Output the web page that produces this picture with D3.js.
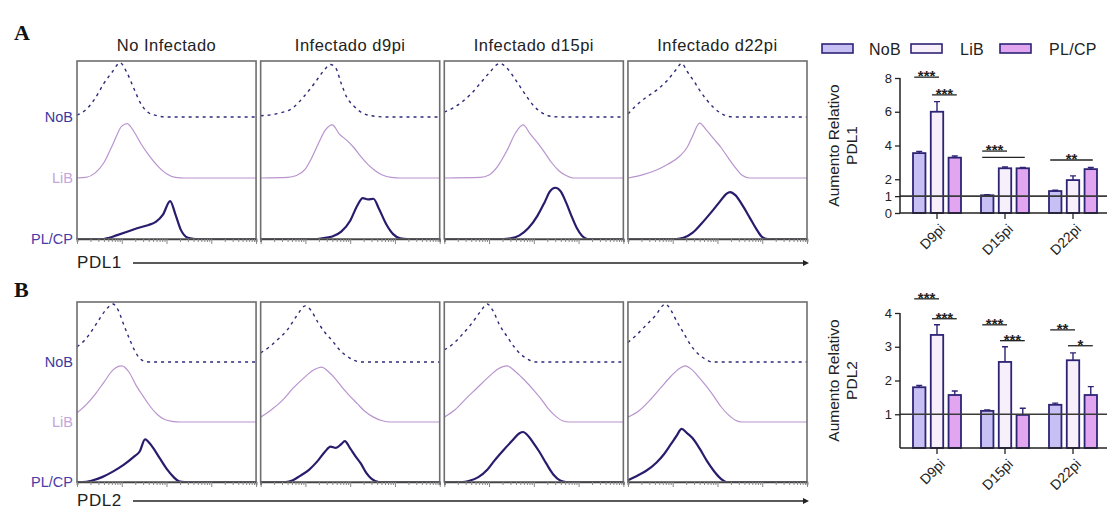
<!DOCTYPE html>
<html>
<head>
<meta charset="utf-8">
<script src="https://cdn.jsdelivr.net/npm/d3@7"></script>
<style>
body { margin: 0; background: #fff; }
svg { display: block; }
text { font-family: "Liberation Sans", Arial, sans-serif; }
</style>
</head>
<body>
<svg id="fig" width="1112" height="509"></svg>
<script>
// ---- data ----
const panelTitles = ["No Infectado", "Infectado d9pi", "Infectado d15pi", "Infectado d22pi"];
const populations = ["NoB", "LiB", "PL/CP"];

// histogram curves, [channel (% of axis), relative height], one per panel
const histPDL1NoB = [
  [[0,0.03],[5,0.12],[10,0.3],[15,0.55],[20,0.75],[24,0.89],[28,0.72],[32,0.45],[36,0.2],[40,0.07],[45,0.02],[50,0]],
  [[0,0.02],[10,0.06],[18,0.15],[24,0.33],[30,0.55],[35,0.75],[39,0.86],[42,0.8],[45,0.55],[48,0.33],[52,0.18],[56,0.08],[62,0.02],[70,0]],
  [[0,0.08],[5,0.15],[10,0.25],[15,0.38],[20,0.55],[25,0.72],[31,0.88],[35,0.8],[40,0.6],[45,0.38],[50,0.18],[55,0.06],[60,0.01],[65,0]],
  [[0,0.05],[5,0.2],[10,0.32],[16,0.44],[22,0.6],[27,0.78],[30,0.88],[33,0.75],[37,0.58],[40,0.44],[44,0.28],[48,0.15],[52,0.06],[56,0.01],[60,0]]
];
const histPDL1LiB = [
  [[0,0],[5,0.01],[10,0.08],[15,0.25],[20,0.55],[25,0.85],[28,0.89],[32,0.75],[36,0.55],[40,0.38],[45,0.2],[50,0.07],[55,0.01],[60,0]],
  [[0,0],[15,0.01],[20,0.04],[25,0.15],[28,0.3],[32,0.55],[36,0.78],[40,0.87],[44,0.72],[48,0.62],[52,0.5],[56,0.35],[60,0.22],[64,0.12],[68,0.05],[73,0.01],[78,0]],
  [[0,0],[20,0.01],[25,0.05],[30,0.2],[35,0.45],[40,0.75],[44,0.87],[48,0.72],[52,0.58],[56,0.42],[60,0.25],[64,0.12],[68,0.04],[72,0]],
  [[0,0],[8,0.05],[16,0.13],[22,0.22],[29,0.36],[33,0.5],[36,0.68],[40,0.9],[44,0.78],[48,0.64],[52,0.5],[56,0.33],[60,0.17],[64,0.04],[68,0]]
];
const histPDL1PLCP = [
  [[0,0],[15,0],[18,0.02],[22,0.06],[28,0.12],[34,0.18],[40,0.23],[44,0.28],[48,0.4],[52,0.62],[55,0.4],[58,0.15],[62,0.02],[66,0]],
  [[0,0],[30,0],[34,0.01],[40,0.04],[45,0.12],[50,0.3],[54,0.55],[57,0.67],[60,0.65],[63,0.66],[66,0.5],[70,0.25],[74,0.08],[78,0.01],[82,0]],
  [[0,0],[33,0],[37,0.01],[42,0.06],[47,0.18],[52,0.38],[56,0.6],[59,0.78],[62,0.84],[65,0.78],[68,0.6],[71,0.38],[74,0.18],[77,0.05],[80,0]],
  [[0,0],[27,0],[31,0.02],[36,0.1],[41,0.25],[46,0.42],[51,0.6],[55,0.74],[57,0.77],[60,0.72],[64,0.55],[68,0.35],[72,0.15],[75,0.03],[78,0]]
];
const histPDL2NoB = [
  [[0,0.25],[4,0.35],[8,0.5],[12,0.68],[16,0.85],[20,0.95],[23,0.85],[26,0.62],[29,0.4],[32,0.2],[35,0.06],[38,0.01],[42,0]],
  [[0,0.15],[5,0.25],[10,0.38],[15,0.53],[20,0.75],[25,0.92],[28,0.85],[32,0.65],[36,0.48],[40,0.35],[44,0.2],[48,0.1],[52,0.03],[56,0]],
  [[0,0.2],[5,0.3],[10,0.45],[15,0.62],[20,0.82],[24,0.95],[27,0.85],[31,0.6],[35,0.42],[39,0.25],[43,0.12],[47,0.04],[51,0]],
  [[0,0.32],[5,0.45],[10,0.6],[15,0.75],[21,0.95],[24,0.85],[27,0.68],[31,0.48],[35,0.28],[39,0.14],[43,0.05],[47,0]]
];
const histPDL2LiB = [
  [[0,0.15],[5,0.28],[10,0.45],[15,0.65],[20,0.85],[25,0.92],[29,0.82],[33,0.6],[37,0.42],[41,0.25],[45,0.12],[49,0.04],[53,0.01],[58,0]],
  [[0,0.08],[6,0.2],[12,0.35],[18,0.55],[24,0.72],[30,0.86],[34,0.9],[38,0.82],[42,0.7],[46,0.55],[50,0.42],[54,0.3],[58,0.18],[63,0.08],[68,0.02],[73,0]],
  [[0,0.08],[6,0.2],[12,0.38],[18,0.55],[24,0.72],[30,0.87],[35,0.92],[40,0.82],[45,0.68],[50,0.52],[54,0.38],[58,0.22],[62,0.1],[66,0.02],[70,0]],
  [[0,0.08],[6,0.18],[12,0.35],[18,0.55],[24,0.75],[29,0.88],[32,0.92],[36,0.85],[40,0.72],[44,0.58],[48,0.42],[52,0.25],[56,0.12],[60,0.03],[64,0]]
];
const histPDL2PLCP = [
  [[0,0],[3,0],[8,0.02],[14,0.08],[20,0.17],[26,0.28],[32,0.42],[35,0.5],[38,0.7],[42,0.58],[46,0.4],[50,0.22],[54,0.08],[57,0.01],[60,0]],
  [[0,0],[14,0],[18,0.03],[22,0.1],[27,0.2],[32,0.35],[36,0.5],[39,0.58],[42,0.56],[45,0.62],[47,0.67],[50,0.55],[53,0.42],[56,0.3],[59,0.15],[62,0.05],[66,0]],
  [[0,0],[10,0],[14,0.02],[19,0.08],[24,0.2],[28,0.35],[33,0.52],[38,0.68],[42,0.8],[44,0.82],[47,0.75],[50,0.63],[53,0.5],[57,0.3],[61,0.12],[65,0.02],[68,0]],
  [[0,0.03],[5,0.1],[10,0.18],[16,0.32],[20,0.45],[24,0.62],[27,0.75],[30,0.87],[33,0.8],[36,0.72],[40,0.55],[44,0.35],[48,0.18],[52,0.05],[55,0]]
];

// bar charts (relative increase)
const days = ["D9pi", "D15pi", "D22pi"];
const pdl1NoB = [3.55, 1.05, 1.3];
const pdl1LiB = [6.0, 2.65, 1.95];
const pdl1PLCP = [3.28, 2.65, 2.6];
const pdl1NoBErr = [0.1, 0.03, 0.05];
const pdl1LiBErr = [0.6, 0.08, 0.25];
const pdl1PLCPErr = [0.1, 0.05, 0.1];
const pdl1Ticks = [0, 1, 2, 4, 6, 8];

const pdl2NoB = [1.8, 1.1, 1.28];
const pdl2LiB = [3.35, 2.55, 2.6];
const pdl2PLCP = [1.57, 0.98, 1.57];
const pdl2NoBErr = [0.05, 0.03, 0.05];
const pdl2LiBErr = [0.3, 0.45, 0.22];
const pdl2PLCPErr = [0.12, 0.2, 0.25];
const pdl2Ticks = [1, 2, 3, 4];

const pdl1Sig = [
  { day: "D9pi", from: "NoB", to: "LiB", y: 8.05, label: "***" },
  { day: "D9pi", from: "LiB", to: "PL/CP", y: 7.0, label: "***" },
  { day: "D15pi", from: "NoB", to: "LiB", y: 3.67, label: "***" },
  { day: "D15pi", from: "NoB", to: "PL/CP", y: 3.3, label: "" },
  { day: "D22pi", from: "NoB", to: "PL/CP", y: 3.14, label: "**" }
];
const pdl2Sig = [
  { day: "D9pi", from: "NoB", to: "LiB", y: 4.42, label: "***" },
  { day: "D9pi", from: "LiB", to: "PL/CP", y: 3.83, label: "***" },
  { day: "D15pi", from: "NoB", to: "LiB", y: 3.65, label: "***" },
  { day: "D15pi", from: "LiB", to: "PL/CP", y: 3.18, label: "***" },
  { day: "D22pi", from: "NoB", to: "LiB", y: 3.5, label: "**" },
  { day: "D22pi", from: "LiB", to: "PL/CP", y: 3.03, label: "*" }
];

// ---- styles ----
const lineStyle = {
  "NoB":   { stroke: "#2e2b78", width: 1.4, dash: "3,4" },
  "LiB":   { stroke: "#b994cf", width: 1.2, dash: null },
  "PL/CP": { stroke: "#281d6c", width: 2.2, dash: null }
};
const labelColor = { "NoB": "#3b3aa0", "LiB": "#c6a4dc", "PL/CP": "#4b3ba6" };
const barFill = { "NoB": "#c6c0f4", "LiB": "#f7f0fb", "PL/CP": "#e2a6f0" };
const barStroke = "#2d2475";

const svg = d3.select("#fig");

// ---- histogram panels ----
const xPanel = d3.scaleBand().domain(panelTitles).range([77, 807]).paddingInner(0.025);
const xHist = d3.scaleLinear().domain([0, 100]).range([0, xPanel.bandwidth()]);
const xLog = d3.scaleLog().domain([10, 1e5]).range([0, xPanel.bandwidth()]);
const amp = d3.scaleLinear().domain([0, 1]).range([0, 61]);

function drawHistRow(cfg) {
  const yBase = d3.scalePoint().domain(populations).range([cfg.firstBase, cfg.bottom]);
  const curves = { "NoB": cfg.noB, "LiB": cfg.liB, "PL/CP": cfg.plcp };

  panelTitles.forEach((title, i) => {
    const g = svg.append("g").attr("transform", `translate(${xPanel(title)},0)`);
    if (cfg.titles) {
      g.append("text").attr("x", xPanel.bandwidth() / 2).attr("y", cfg.top - 10)
        .attr("text-anchor", "middle").attr("font-size", 16.5).attr("letter-spacing", 0.5)
        .attr("fill", "#222").text(title);
    }
    populations.forEach(p => {
      const base = yBase(p);
      const pts = curves[p][i].slice();
      if (pts[pts.length - 1][0] < 100) pts.push([100, 0]);
      const line = d3.line()
        .x(d => xHist(d[0]))
        .y(d => base - amp(d[1]))
        .curve(d3.curveMonotoneX);
      const st = lineStyle[p];
      g.append("path").attr("d", line(pts)).attr("fill", "none")
        .attr("stroke", st.stroke).attr("stroke-width", st.width)
        .attr("stroke-dasharray", st.dash).attr("stroke-linejoin", "round");
    });
    g.append("rect").attr("x", 0).attr("y", cfg.top)
      .attr("width", xPanel.bandwidth()).attr("height", cfg.bottom - cfg.top)
      .attr("fill", "none").attr("stroke", "#6e6e6e").attr("stroke-width", 1.6);
    // log ticks below the panel
    const ax = g.append("g").attr("transform", `translate(0,${cfg.bottom})`)
      .call(d3.axisBottom(xLog).tickSize(3).tickFormat(""));
    ax.select(".domain").attr("stroke", "#444").attr("stroke-width", 1.6);
    ax.selectAll(".tick line").attr("stroke", "#888")
      .attr("y2", d => Math.abs(Math.log10(d) - Math.round(Math.log10(d))) < 1e-6 ? 5 : 3);
  });

  populations.forEach(p => {
    svg.append("text").attr("x", 73).attr("y", yBase(p) + 5)
      .attr("text-anchor", "end").attr("font-size", 14.5)
      .attr("fill", labelColor[p]).text(p);
  });

  svg.append("text").attr("x", 14).attr("y", cfg.letterY)
    .style("font-family", "'Liberation Serif', 'DejaVu Serif', serif").attr("font-weight", "bold")
    .attr("font-size", 22).attr("fill", "#111").text(cfg.letter);

  svg.append("text").attr("x", 77).attr("y", cfg.markerY + 5)
    .attr("font-size", 17).attr("letter-spacing", 0.6).attr("fill", "#222").text(cfg.marker);
  svg.append("line").attr("x1", 133).attr("x2", 803)
    .attr("y1", cfg.markerY).attr("y2", cfg.markerY)
    .attr("stroke", "#222").attr("stroke-width", 1.4);
  svg.append("path")
    .attr("d", `M803,${cfg.markerY - 3}L809,${cfg.markerY}L803,${cfg.markerY + 3}Z`)
    .attr("fill", "#222");
}

drawHistRow({ top: 61, firstBase: 117, bottom: 239, titles: true, letter: "A", letterY: 40,
  marker: "PDL1", markerY: 263, noB: histPDL1NoB, liB: histPDL1LiB, plcp: histPDL1PLCP });
drawHistRow({ top: 302, firstBase: 362, bottom: 482, titles: false, letter: "B", letterY: 297,
  marker: "PDL2", markerY: 501, noB: histPDL2NoB, liB: histPDL2LiB, plcp: histPDL2PLCP });

// ---- bar charts ----
const xDay = d3.scaleBand().domain(days).range([903, 1107]);
const xPop = d3.scaleBand().domain(populations).range([10, 58]).paddingInner(0.3);

function drawBars(cfg) {
  const y = d3.scaleLinear().domain(cfg.domain).range(cfg.range);
  const vals = { "NoB": cfg.noB, "LiB": cfg.liB, "PL/CP": cfg.plcp };
  const errs = { "NoB": cfg.noBErr, "LiB": cfg.liBErr, "PL/CP": cfg.plcpErr };
  const rows = [];
  days.forEach((d, i) => populations.forEach(p => rows.push({ day: d, pop: p, v: vals[p][i], e: errs[p][i] })));
  const cx = r => xDay(r.day) + xPop(r.pop) + xPop.bandwidth() / 2;

  // error bars
  svg.append("g").selectAll("path").data(rows).join("path")
    .attr("d", r => `M${cx(r)},${y(r.v)}V${y(r.v + r.e)}M${cx(r) - 3},${y(r.v + r.e)}H${cx(r) + 3}`)
    .attr("stroke", barStroke).attr("stroke-width", 1.4).attr("fill", "none");

  svg.append("g").selectAll("rect").data(rows).join("rect")
    .attr("x", r => xDay(r.day) + xPop(r.pop))
    .attr("y", r => y(r.v))
    .attr("width", xPop.bandwidth())
    .attr("height", r => y(0) - y(r.v))
    .attr("fill", r => barFill[r.pop])
    .attr("stroke", barStroke).attr("stroke-width", 1.8);

  // reference line at 1
  svg.append("line").attr("x1", 900).attr("x2", 1107)
    .attr("y1", y(1)).attr("y2", y(1))
    .attr("stroke", "#3a3a3a").attr("stroke-width", 1.6);

  // axes
  const ya = svg.append("g").attr("transform", "translate(900,0)")
    .call(d3.axisLeft(y).tickValues(cfg.ticks).tickSize(5).tickFormat(d3.format("d")));
  ya.select(".domain").attr("d", `M0,${y(0)}V${y(cfg.domain[1])}`).attr("stroke", "#222").attr("stroke-width", 1.5);
  ya.selectAll(".tick line").attr("stroke", "#222").attr("stroke-width", 1.3);
  ya.selectAll(".tick text").attr("font-size", 13).attr("fill", "#222");

  const xa = svg.append("g").attr("transform", `translate(0,${y(0)})`)
    .call(d3.axisBottom(xDay).tickSize(6).tickSizeOuter(0));
  xa.select(".domain").attr("d", "M900,0H1107").attr("stroke", "#222").attr("stroke-width", 1.5);
  xa.selectAll(".tick line").attr("stroke", "#222").attr("stroke-width", 1.3);
  xa.selectAll(".tick text").attr("font-size", 14).attr("fill", "#222")
    .attr("text-anchor", "end").attr("dy", null).attr("y", 0)
    .attr("transform", "translate(9,17) rotate(-45)");

  // y label
  const ly = (cfg.range[0] + cfg.range[1]) / 2;
  const lab = svg.append("text").attr("transform", `translate(839,${ly}) rotate(-90)`)
    .attr("text-anchor", "middle").attr("font-size", 15.5).attr("fill", "#222");
  lab.append("tspan").attr("x", 0).attr("dy", 0).text("Aumento Relativo");
  lab.append("tspan").attr("x", 0).attr("dy", 18).text(cfg.marker);

  // significance
  const sig = svg.append("g");
  cfg.sig.forEach(s => {
    const x1 = xDay(s.day) + xPop(s.from) + xPop.bandwidth() / 2 - 5;
    const x2 = xDay(s.day) + xPop(s.to) + xPop.bandwidth() / 2 + 2;
    sig.append("line").attr("x1", x1).attr("x2", x2).attr("y1", y(s.y)).attr("y2", y(s.y))
      .attr("stroke", "#222").attr("stroke-width", 1.3);
    if (s.label) sig.append("text").attr("x", (x1 + x2) / 2).attr("y", y(s.y) + 4)
      .attr("text-anchor", "middle").attr("font-size", 15).attr("font-weight", "bold")
      .attr("fill", "#222").text(s.label);
  });
}

drawBars({ domain: [0, 8], range: [213, 78], ticks: pdl1Ticks, marker: "PDL1",
  noB: pdl1NoB, liB: pdl1LiB, plcp: pdl1PLCP,
  noBErr: pdl1NoBErr, liBErr: pdl1LiBErr, plcpErr: pdl1PLCPErr, sig: pdl1Sig });
drawBars({ domain: [0, 4], range: [448, 313], ticks: pdl2Ticks, marker: "PDL2",
  noB: pdl2NoB, liB: pdl2LiB, plcp: pdl2PLCP,
  noBErr: pdl2NoBErr, liBErr: pdl2LiBErr, plcpErr: pdl2PLCPErr, sig: pdl2Sig });

// ---- legend ----
const legX = d3.scalePoint().domain(populations).range([822, 1000]);
const leg = svg.append("g").selectAll("g").data(populations).join("g")
  .attr("transform", p => `translate(${legX(p)},44)`);
leg.append("rect").attr("width", 31).attr("height", 9)
  .attr("fill", p => barFill[p]).attr("stroke", barStroke).attr("stroke-width", 1.6);
leg.append("text").attr("x", p => p === "NoB" ? 47 : 49).attr("y", 11)
  .attr("font-size", 16).attr("letter-spacing", 0.3).attr("fill", "#222").text(p => p);
</script>
</body>
</html>
